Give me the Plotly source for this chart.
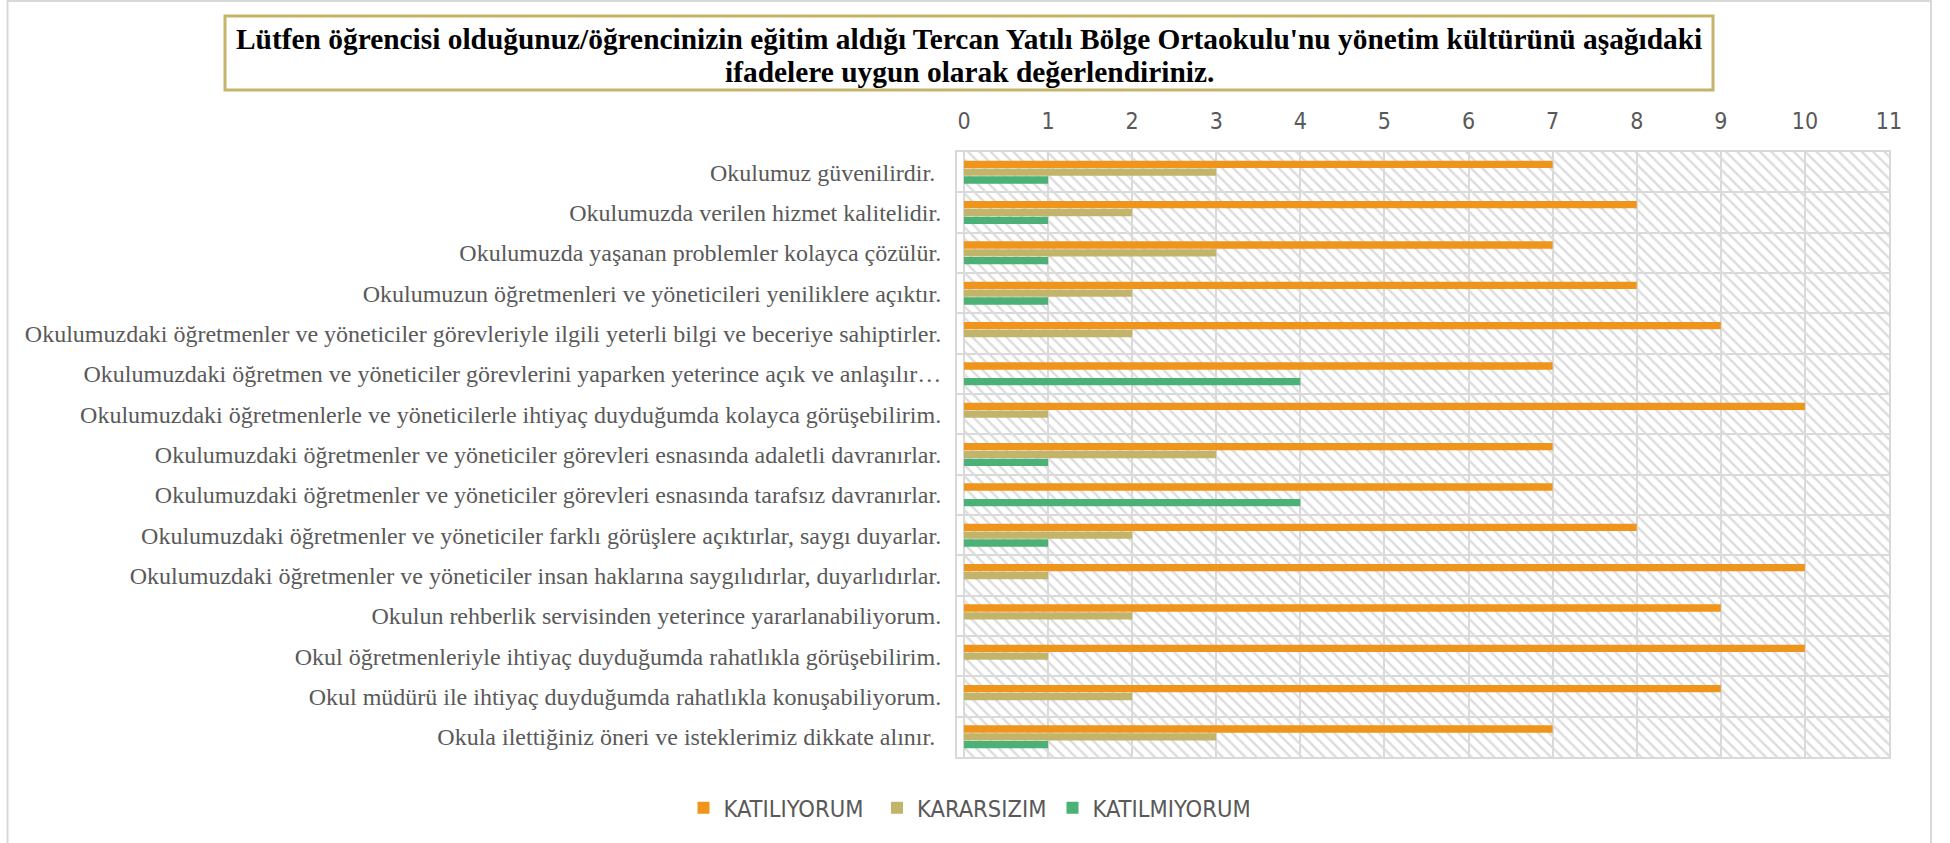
import plotly.graph_objects as go

categories = [
    "Okulumuz güvenilirdir.\u00a0",
    "Okulumuzda verilen hizmet kalitelidir.",
    "Okulumuzda yaşanan problemler kolayca çözülür.",
    "Okulumuzun öğretmenleri ve yöneticileri yeniliklere açıktır.",
    "Okulumuzdaki öğretmenler ve yöneticiler görevleriyle ilgili yeterli bilgi ve beceriye sahiptirler.",
    "Okulumuzdaki öğretmen ve yöneticiler görevlerini yaparken yeterince açık ve anlaşılır…",
    "Okulumuzdaki öğretmenlerle ve yöneticilerle ihtiyaç duyduğumda kolayca görüşebilirim.",
    "Okulumuzdaki öğretmenler ve yöneticiler görevleri esnasında adaletli davranırlar.",
    "Okulumuzdaki öğretmenler ve yöneticiler görevleri esnasında tarafsız davranırlar.",
    "Okulumuzdaki öğretmenler ve yöneticiler farklı görüşlere açıktırlar, saygı duyarlar.",
    "Okulumuzdaki öğretmenler ve yöneticiler insan haklarına saygılıdırlar, duyarlıdırlar.",
    "Okulun rehberlik servisinden yeterince yararlanabiliyorum.",
    "Okul öğretmenleriyle ihtiyaç duyduğumda rahatlıkla görüşebilirim.",
    "Okul müdürü ile ihtiyaç duyduğumda rahatlıkla konuşabiliyorum.",
    "Okula ilettiğiniz öneri ve isteklerimiz dikkate alınır.\u00a0",
]
katiliyorum = [7, 8, 7, 8, 9, 7, 10, 7, 7, 8, 10, 9, 10, 9, 7]
kararsizim = [3, 2, 3, 2, 2, 0, 1, 3, 0, 2, 1, 2, 1, 2, 3]
katilmiyorum = [1, 1, 1, 1, 0, 4, 0, 1, 4, 1, 0, 0, 0, 0, 1]
series_names = ["KATILIYORUM", "KARARSIZIM", "KATILMIYORUM"]
x_ticks = list(range(0, 12))
title_line1 = "Lütfen öğrencisi olduğunuz/öğrencinizin eğitim aldığı Tercan Yatılı Bölge Ortaokulu'nu yönetim kültürünü aşağıdaki"
title_line2 = "ifadelere uygun olarak değerlendiriniz."

colors = ["#F0951B", "#C3B46B", "#4BB176"]
n = len(categories)
pos = list(range(n))
xmax = x_ticks[-1]
xmin = -0.083

W, H = 1950, 843
L, R, T, B = 957, 1889, 152, 757
pw, ph = R - L, B - T

def px_x(p):
    return (p - L) / pw

def px_y(p):
    return (B - p) / ph

fig = go.Figure()

# hatched background on base axes
fig.add_trace(go.Bar(
    x=[xmax], y=[(n - 1) / 2], width=[n], base=0, orientation="h",
    marker=dict(color="rgba(0,0,0,0)", line=dict(width=0),
                pattern=dict(shape="\\", fgcolor="#DCDCDC", fillmode="replace", size=8, solidity=0.3)),
    showlegend=False, hoverinfo="skip", xaxis="x", yaxis="y",
))

legend_ids = ["legend", "legend2", "legend3"]
for name, vals, c, lg in zip(series_names, [katiliyorum, kararsizim, katilmiyorum], colors, legend_ids):
    fig.add_trace(go.Bar(
        name=name, x=vals, y=pos, orientation="h",
        marker=dict(color=c, line=dict(width=0)),
        xaxis="x2", yaxis="y2", legend=lg,
    ))

label_font = dict(family="Liberation Serif, Times New Roman, serif", size=24, color="#595959")
tick_font = dict(family="DejaVu Sans Condensed, Liberation Sans Narrow, sans-serif", size=23, color="#595959")
legend_font = dict(family="DejaVu Sans Condensed, Liberation Sans Narrow, sans-serif", size=23.5, color="#595959")

def legend_at(px):
    return dict(orientation="h", x=px_x(px), xanchor="left", y=px_y(808), yanchor="middle",
                font=legend_font, itemwidth=30, bgcolor="rgba(0,0,0,0)")

fig.update_layout(
    width=W, height=H,
    margin=dict(l=L, r=W - R, t=T, b=H - B, pad=0),
    paper_bgcolor="white", plot_bgcolor="white",
    barmode="group", bargap=0.42, bargroupgap=0.06,
    xaxis=dict(range=[xmin, xmax], side="top", tickvals=x_ticks, showgrid=True,
               gridcolor="#D9D9D9", gridwidth=2, zeroline=False,
               showline=True, linecolor="#D9D9D9", linewidth=2, mirror=True,
               ticks="", tickfont=tick_font, ticklabelstandoff=12, fixedrange=True),
    yaxis=dict(range=[n - 0.5, -0.5], tickvals=pos, ticktext=categories,
               showgrid=False, zeroline=False,
               showline=True, linecolor="#D9D9D9", linewidth=2, mirror=True,
               ticks="", tickfont=label_font, ticklabelstandoff=9,
               minor=dict(tick0=0.5, dtick=1, showgrid=True, gridcolor="#D9D9D9", gridwidth=2, ticks="")),
    xaxis2=dict(range=[xmin, xmax], overlaying="x", visible=False),
    yaxis2=dict(range=[n - 0.5, -0.5], overlaying="y", visible=False),
    legend=legend_at(683.5),
    legend2=legend_at(877),
    legend3=legend_at(1052.5),
    showlegend=True,
)

# outer chart border
fig.add_shape(type="rect", xref="paper", yref="paper",
              x0=px_x(7.5), x1=px_x(1931), y0=px_y(860), y1=px_y(1),
              line=dict(color="#D9D9D9", width=2), fillcolor="rgba(0,0,0,0)", layer="below")

# title box
fig.add_shape(type="rect", xref="paper", yref="paper",
              x0=px_x(225), x1=px_x(1713), y0=px_y(90), y1=px_y(16),
              line=dict(color="#C6B46C", width=3), fillcolor="white", layer="above")

title_font = dict(family="Liberation Serif, Times New Roman, serif", size=29.4, color="black")
for txt, yc in [(title_line1, 39), (title_line2, 71.5)]:
    fig.add_annotation(
        text="<b>" + txt + "</b>", xref="paper", yref="paper",
        x=px_x(969), y=px_y(yc), xanchor="center", yanchor="middle",
        showarrow=False, font=title_font,
    )

fig.write_html("out.html", config={"displayModeBar": False},
               post_script="document.body.style.margin='0px';")
